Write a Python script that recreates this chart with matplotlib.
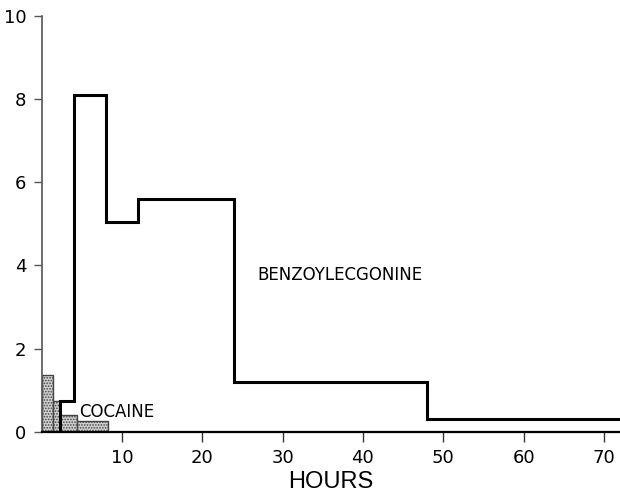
import matplotlib
matplotlib.use("Agg")
import matplotlib.pyplot as plt

# Benzoylecgonine step (edges in hours, values)
benzo_edges = [2.3, 4, 8, 12, 24, 48, 72]
benzo_values = [0.75, 8.1, 5.05, 5.6, 1.2, 0.3]

# Cocaine shaded steps
cocaine_edges = [0, 1.4, 2.3, 4.4, 8.3]
cocaine_values = [1.37, 0.75, 0.41, 0.25]

x_ticks = [10, 20, 30, 40, 50, 60, 70]
y_ticks = [0, 2, 4, 6, 8, 10]

plt.rcParams['hatch.linewidth'] = 0.8

fig = plt.figure(figsize=(6.2, 4.97), dpi=100)
ax = fig.add_axes([0.067, 0.131, 0.933, 0.837])

# cocaine bars
widths = [cocaine_edges[i + 1] - cocaine_edges[i] for i in range(len(cocaine_values))]
ax.bar(cocaine_edges[:-1], cocaine_values, width=widths, align='edge',
       facecolor='#d0d0d0', edgecolor='#444444', hatch='......', linewidth=1.0, zorder=2)

# benzoylecgonine step line
xs = [benzo_edges[0]] + benzo_edges
ys = [0] + benzo_values + [benzo_values[-1]]
ax.plot(xs, ys, drawstyle='steps-post', color='black', linewidth=2.2, zorder=3,
        solid_joinstyle='miter')

ax.set_xlim(0, 72)
ax.set_ylim(0, 10)
ax.set_xticks(x_ticks)
ax.set_yticks(y_ticks)
ax.set_xticklabels([str(t) for t in x_ticks])
ax.set_yticklabels([str(t) for t in y_ticks])

for s in ['top', 'right']:
    ax.spines[s].set_visible(False)
ax.spines['left'].set_color('#555555')
ax.spines['left'].set_linewidth(1.2)
ax.spines['bottom'].set_color('black')
ax.spines['bottom'].set_linewidth(1.6)

ax.tick_params(axis='y', direction='out', length=6, width=1, color='#555555',
               labelsize=13, pad=5)
ax.tick_params(axis='x', direction='out', length=7, width=1, color='#333333',
               labelsize=13, pad=5)

ax.set_xlabel('HOURS', fontsize=17, family=['Liberation Sans Narrow', 'Liberation Sans', 'DejaVu Sans'],
              labelpad=3)

ax.text(26.9, 3.66, 'BENZOYLECGONINE', fontsize=12, va='baseline', ha='left')
ax.text(4.7, 0.36, 'COCAINE', fontsize=12, va='baseline', ha='left')

fig.savefig('out.png', dpi=100)
